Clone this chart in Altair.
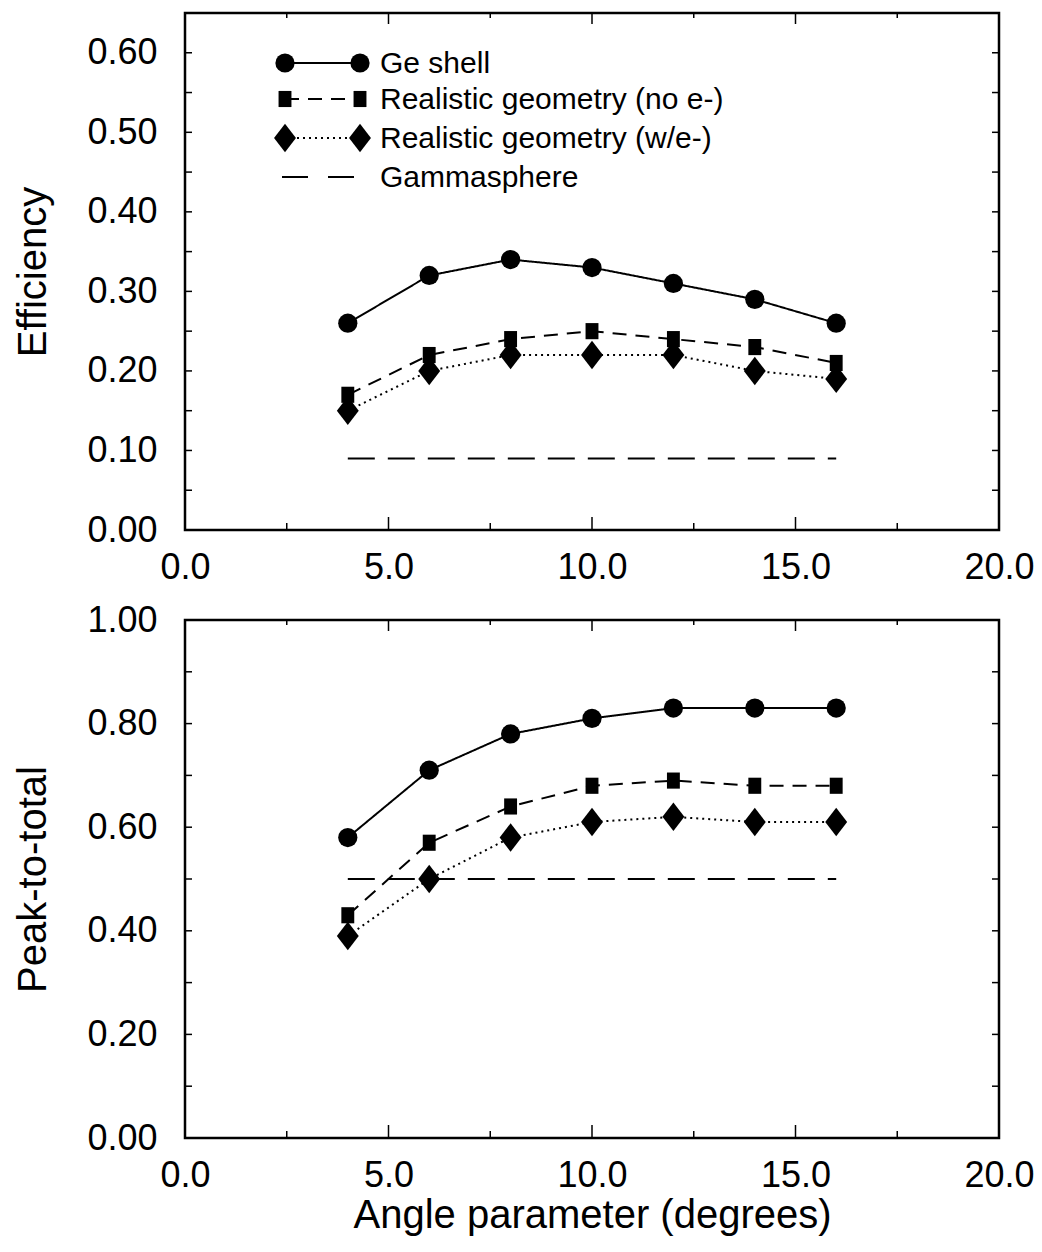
import altair as alt
import pandas as pd

FONT = "Liberation Sans"

# ---- data ----
angles = [4, 6, 8, 10, 12, 14, 16]
series_names = ["Ge shell", "Realistic geometry (no e-)", "Realistic geometry (w/e-)", "Gammasphere"]

eff_ge = [0.26, 0.32, 0.34, 0.33, 0.31, 0.29, 0.26]
eff_noe = [0.17, 0.22, 0.24, 0.25, 0.24, 0.23, 0.21]
eff_we = [0.15, 0.20, 0.22, 0.22, 0.22, 0.20, 0.19]

ptt_ge = [0.58, 0.71, 0.78, 0.81, 0.83, 0.83, 0.83]
ptt_noe = [0.43, 0.57, 0.64, 0.68, 0.69, 0.68, 0.68]
ptt_we = [0.39, 0.50, 0.58, 0.61, 0.62, 0.61, 0.61]

gs_angles = [4, 16]
eff_gs = [0.09, 0.09]
ptt_gs = [0.50, 0.50]

x_label_values = [0, 5, 10, 15, 20]
x_ticks_major = [5, 10, 15]
x_ticks_minor = [2.5, 7.5, 12.5, 17.5]
eff_label_values = [0.0, 0.1, 0.2, 0.3, 0.4, 0.5, 0.6]
eff_ticks = [0.05, 0.10, 0.15, 0.20, 0.25, 0.30, 0.35, 0.40, 0.45, 0.50, 0.55, 0.60]
ptt_label_values = [0.0, 0.2, 0.4, 0.6, 0.8, 1.0]
ptt_ticks = [0.1, 0.2, 0.3, 0.4, 0.5, 0.6, 0.7, 0.8, 0.9]

# ---- layout / style constants ----
W = 814
H_TOP = 517
H_BOT = 518
LABEL_FS = 36
TITLE_FS = 40
LEGEND_FS = 30

STYLES = {
    "Ge shell": dict(dash=[1, 0], shape="circle", size=370),
    "Realistic geometry (no e-)": dict(dash=[14, 9], shape="M-0.8,-1L0.8,-1L0.8,1L-0.8,1Z", size=260),
    "Realistic geometry (w/e-)": dict(dash=[2, 4], shape="M0,-1.3L1,0L0,1.3L-1,0Z", size=480),
    "Gammasphere": dict(dash=[27, 13]),
}


def make_panel(h, ymax, ylabels, yticks, series, gs_vals, ytitle, xtitle, legend):
    xscale = alt.Scale(domain=[0, 20], nice=False, zero=False)
    yscale = alt.Scale(domain=[0, ymax], nice=False, zero=False)
    xaxis_kw = dict(values=x_label_values, format=".1f", ticks=False, domain=False, grid=False,
                    labelFontSize=LABEL_FS, labelFont=FONT, labelColor="black", labelPadding=20,
                    labelFlush=False, labelOverlap=False)
    if xtitle:
        xaxis_kw.update(titleFontSize=TITLE_FS, titleFont=FONT, titleFontWeight="normal",
                        titleColor="black", titleBaseline="alphabetic", titleY=89)
    xaxis = alt.Axis(**xaxis_kw)
    yaxis = alt.Axis(values=ylabels, format=".2f", ticks=False, domain=False, grid=False,
                     labelFontSize=LABEL_FS, labelFont=FONT, labelColor="black", labelPadding=28,
                     labelFlush=False, labelOverlap=False,
                     titleFontSize=TITLE_FS, titleFont=FONT, titleFontWeight="normal",
                     titleColor="black", titleBaseline="alphabetic", titleX=-140)

    def X(field):
        return alt.X(f"{field}:Q", scale=xscale, axis=xaxis, title=xtitle if xtitle else None)

    def Y(field):
        return alt.Y(f"{field}:Q", scale=yscale, axis=yaxis, title=ytitle)

    layers = []
    # data series
    for name, vals in series:
        st = STYLES[name]
        df = pd.DataFrame({"angle": angles, "value": vals})
        layers.append(alt.Chart(df).mark_line(color="black", strokeWidth=2, strokeDash=st["dash"]).encode(
            x=X("angle"), y=Y("value")))
        layers.append(alt.Chart(df).mark_point(shape=st["shape"], size=st["size"], filled=True,
                                               color="black", opacity=1).encode(x=X("angle"), y=Y("value")))
    gdf = pd.DataFrame({"angle": gs_angles, "value": gs_vals})
    layers.append(alt.Chart(gdf).mark_line(color="black", strokeWidth=2,
                                           strokeDash=STYLES["Gammasphere"]["dash"]).encode(
        x=X("angle"), y=Y("value")))

    # inward ticks
    for vals, ln in [(x_ticks_major, 13), (x_ticks_minor, 7)]:
        tdf = pd.DataFrame({"t": vals})
        layers.append(alt.Chart(tdf).mark_rule(color="black", strokeWidth=1.5).encode(
            x=X("t"), y=alt.value(h), y2=alt.value(h - ln)))
        layers.append(alt.Chart(tdf).mark_rule(color="black", strokeWidth=1.5).encode(
            x=X("t"), y=alt.value(0), y2=alt.value(ln - 2)))
    ydf = pd.DataFrame({"t": yticks})
    layers.append(alt.Chart(ydf).mark_rule(color="black", strokeWidth=1.5).encode(
        y=Y("t"), x=alt.value(0), x2=alt.value(7)))
    layers.append(alt.Chart(ydf).mark_rule(color="black", strokeWidth=1.5).encode(
        y=Y("t"), x=alt.value(W), x2=alt.value(W - 7)))

    # legend (manual, inside top panel)
    if legend:
        one = alt.Data(values=[{}])
        rows_y = [50, 86, 125, 164]
        for name, ry in zip(series_names, rows_y):
            st = STYLES[name]
            if name == "Gammasphere":
                layers.append(alt.Chart(one).mark_rule(color="black", strokeWidth=2, strokeDash=[26, 20]).encode(
                    x=alt.value(97), x2=alt.value(170), y=alt.value(ry)))
            else:
                layers.append(alt.Chart(one).mark_rule(color="black", strokeWidth=2, strokeDash=st["dash"]).encode(
                    x=alt.value(100), x2=alt.value(175), y=alt.value(ry)))
                for px in (100, 175):
                    layers.append(alt.Chart(one).mark_point(shape=st["shape"], size=st["size"], filled=True,
                                                            color="black", opacity=1).encode(
                        x=alt.value(px), y=alt.value(ry)))
            layers.append(alt.Chart(one).mark_text(align="left", baseline="middle", fontSize=LEGEND_FS,
                                                   font=FONT, color="black").encode(
                x=alt.value(195), y=alt.value(ry + 1), text=alt.value(name)))

    return alt.layer(*layers).properties(width=W, height=h)


top = make_panel(H_TOP, 0.65, eff_label_values, eff_ticks,
                 [("Ge shell", eff_ge), ("Realistic geometry (no e-)", eff_noe), ("Realistic geometry (w/e-)", eff_we)],
                 eff_gs, "Efficiency", None, True)
bottom = make_panel(H_BOT, 1.0, ptt_label_values, ptt_ticks,
                    [("Ge shell", ptt_ge), ("Realistic geometry (no e-)", ptt_noe), ("Realistic geometry (w/e-)", ptt_we)],
                    ptt_gs, "Peak-to-total", "Angle parameter (degrees)", False)

chart = alt.vconcat(top, bottom, spacing=90, bounds="flush").properties(
    padding={"left": 11, "top": 11, "right": 4, "bottom": 4},
    background="white",
).configure_view(stroke="black", strokeWidth=2.5)

chart.save("out.html", embed_options={"renderer": "svg", "actions": False})
